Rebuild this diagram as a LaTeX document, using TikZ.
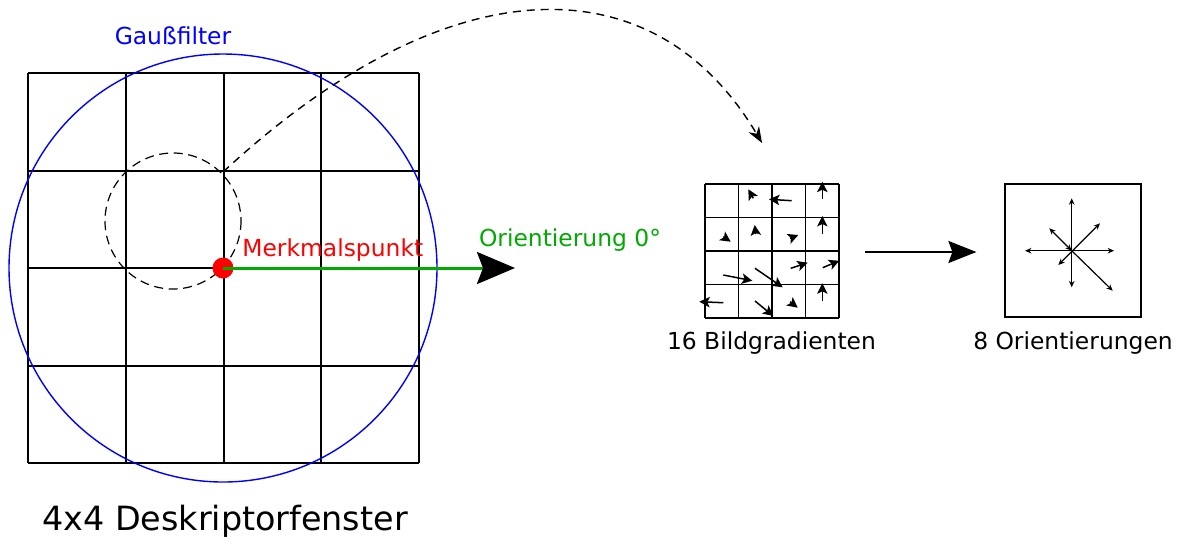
\documentclass[tikz,border=0pt]{standalone}
\usepackage{fontspec}
\setmainfont{DejaVu Sans}
\usetikzlibrary{arrows.meta}

\definecolor{gauss}{RGB}{0,0,255}
\definecolor{orientgreen}{RGB}{0,170,0}
\definecolor{kpred}{RGB}{255,0,0}

\tikzset{
  txt/.style={font=\fontsize{11.7}{14}\selectfont, inner sep=0pt},
  bigtxt/.style={font=\fontsize{16.7}{20}\selectfont, inner sep=0pt},
  gradarrow/.style={line width=0.75pt, -{Stealth[length=5.2pt,width=5.2pt,inset=1.2pt]}},
  orarrow/.style={line width=0.6pt, {Stealth[length=3.2pt,width=2.8pt]}-{Stealth[length=3.2pt,width=2.8pt]}},
}

\begin{document}
\begin{tikzpicture}[x=0.5pt,y=-0.5pt]
\useasboundingbox (0,0) rectangle (1182,537);

% Deskriptorfenster 4x4
\foreach \i in {28,125.75,223.5,321.25,419}{
  \draw[line width=1pt] (\i,73) -- (\i,463) ;
}
\foreach \j in {73,170.5,268,365.5,463}{
  \draw[line width=1pt] (28,\j) -- (419,\j) ;
}
\draw[gauss, line width=0.7pt] (223,268) circle[radius=214] ;
\node[txt, text=gauss] (gaussfilter) at (173,36) {Gaußfilter};

\draw[dashed, dash pattern=on 4.5pt off 2.8pt, line width=0.6pt] (173,221) circle[radius=68] ;

\node[circle, fill=kpred, minimum size=10.5pt, inner sep=0pt] (kp) at (223,268) {};
\coordinate (orient) at (515,268) ;
\draw[orientgreen, line width=1.5pt, -{Stealth[length=19pt,width=16pt,inset=3pt,black]}] (kp.center) -- (orient) ;
\node[txt, text=kpred, anchor=west] (kplabel) at (242,250) {Merkmalspunkt};
\node[txt, text=orientgreen] (orientlabel) at (570,240) {Orientierung 0°};

\node[bigtxt] (fenster) at (225,521) {4x4 Deskriptorfenster};

% gestrichelter Bogen
\coordinate (dstart) at (223,172) ;
\coordinate (dend) at (762,143) ;
\draw[dashed, dash pattern=on 4pt off 3pt, line width=0.7pt, -{Stealth[length=8pt,width=6pt]}]
  (dstart) .. controls (450,-38) and (655,-38) .. (dend) ;

% 16 Bildgradienten
\node[minimum width=67pt, minimum height=67pt, inner sep=0pt] (grad) at (772,251) {};
\foreach \i in {705,738.5,772,805.5,839}{
  \draw[line width=0.8pt] (\i,184) -- (\i,318) ;
}
\foreach \j in {184,217.5,251,284.5,318}{
  \draw[line width=0.8pt] (705,\j) -- (839,\j) ;
}
\foreach \a/\b/\c/\d in {
  753.3/198.3/748.3/189.3, 791.7/200.7/769/199.3, 822.3/199.3/822.3/181.7,
  723.3/236.7/730.7/241.7, 755.7/234/754.7/225, 790/238.3/798.3/235, 822.3/234/822.3/216,
  723.3/275/752.3/280.7, 755/268.3/782.7/287.3, 790.7/268.3/807.7/262.7, 822.7/267.7/839.3/260.7,
  723.3/302.7/699.3/301.7, 755/301/773.3/316, 790/301.7/797.7/307.7, 822.3/300.7/822.3/283.3}{
  \draw[gradarrow] (\a,\b) -- (\c,\d) ;
}
\node[txt] (gradlabel) at (771.5,343) {16 Bildgradienten};

% 8 Orientierungen
\node[draw, line width=0.6pt, minimum width=68pt, minimum height=66.5pt, inner sep=0pt] (ori) at (1073,250.5) {};
\coordinate (oc) at (1071.7,250.7) ;
\draw[orarrow] (1071.7,198.3) -- (1071.7,287.3) ;
\draw[orarrow] (1025,250.7) -- (1114,250.7) ;
\draw[orarrow] (1049.3,228.3) -- (oc) ;
\draw[orarrow] (1100,223.3) -- (1058.3,265) ;
\draw[-{Stealth[length=3.2pt,width=2.8pt]}, line width=0.6pt] (oc) -- (1112.7,290.7) ;
\node[txt] (orilabel) at (1073,343) {8 Orientierungen};

\draw[line width=1pt, -{Stealth[length=14pt,width=11pt,inset=2pt]}, shorten <=13pt, shorten >=14pt] (grad.east |- 0,252) -- (ori.west |- 0,252) ;
\end{tikzpicture}
\end{document}
